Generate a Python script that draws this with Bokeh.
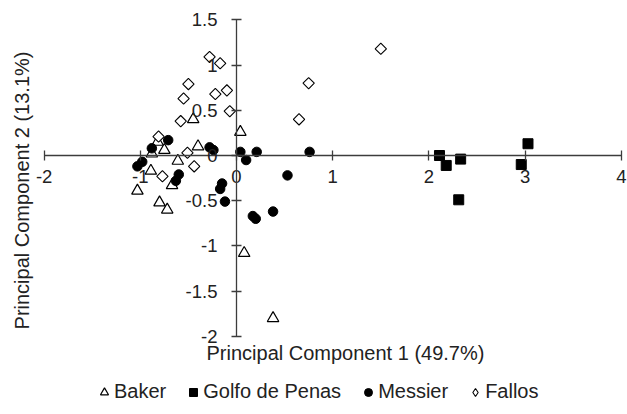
from bokeh.plotting import figure
from bokeh.models import (FixedTicker, Label, Legend, LegendItem, Range1d,
                          PrintfTickFormatter, ColumnDataSource)
from bokeh.embed import file_html
from bokeh.resources import INLINE
import math

# ---- data ----
baker_x = [-0.45, 0.04, -0.40, -0.75, -0.82, -0.88, -0.61, -0.89, -0.67, -1.03, -0.80, -0.72, 0.08, 0.38]
baker_y = [0.40, 0.26, 0.10, 0.06, 0.15, 0.02, -0.06, -0.17, -0.33, -0.39, -0.52, -0.60, -1.08, -1.80]

golfo_x = [2.11, 2.18, 2.33, 2.31, 2.96, 3.03]
golfo_y = [0.00, -0.11, -0.04, -0.49, -0.10, 0.13]

messier_x = [-0.71, -0.88, -0.28, -0.24, 0.04, 0.21, 0.10, -1.03, -0.98, -0.60, -0.63,
             -0.15, -0.17, -0.12, 0.17, 0.20, 0.38, 0.53, 0.76]
messier_y = [0.17, 0.08, 0.09, 0.06, 0.04, 0.04, -0.05, -0.12, -0.07, -0.21, -0.28,
             -0.31, -0.37, -0.51, -0.67, -0.70, -0.62, -0.22, 0.04]

fallos_x = [-0.28, -0.17, -0.50, -0.55, -0.22, -0.10, -0.07, -0.58, -0.81, -0.51, -0.44, -0.77, 1.50, 0.75, 0.65]
fallos_y = [1.09, 1.02, 0.79, 0.63, 0.68, 0.72, 0.49, 0.38, 0.21, 0.03, -0.12, -0.23, 1.18, 0.80, 0.40]

series_names = ["Baker", "Golfo de Penas", "Messier", "Fallos"]
x_ticks = [-2, -1, 0, 1, 2, 3, 4]
y_ticks = [-2, -1.5, -1, -0.5, 0, 0.5, 1, 1.5]
x_title = "Principal Component 1 (49.7%)"
y_title = "Principal Component 2 (13.1%)"

FONT = "Liberation Sans"
INK = "#222222"
AXIS = "#3c3c3c"

W, H = 627, 414
# pixel geometry of the reference: origin at (236, 155), 96.2 px per x unit, 90.4 px per y unit
X0, Y0, SX, SY = 236.0, 155.0, 96.2, 90.4
x_range = Range1d(-X0 / SX, (W - X0) / SX)
y_range = Range1d(-(H - Y0) / SY, Y0 / SY)

p = figure(width=W, height=H, x_range=x_range, y_range=y_range,
           output_backend="svg", toolbar_location=None,
           min_border_left=0, min_border_right=0, min_border_top=0, min_border_bottom=0)
p.outline_line_color = None
p.grid.visible = False
p.background_fill_color = "white"
p.border_fill_color = "white"

for ax, ticks in ((p.xaxis, x_ticks), (p.yaxis, y_ticks)):
    ax.fixed_location = 0
    ax.bounds = (min(ticks), max(ticks))
    ax.ticker = FixedTicker(ticks=ticks)
    ax.formatter = PrintfTickFormatter(format="%g")
    ax.minor_tick_line_color = None
    ax.axis_line_color = AXIS
    ax.axis_line_width = 1.3
    ax.major_tick_line_color = AXIS
    ax.major_tick_line_width = 1.3
    ax.major_tick_in = 5
    ax.major_tick_out = 5
    ax.major_label_text_font = FONT
    ax.major_label_text_font_size = "18.5px"
    ax.major_label_text_color = INK
p.xaxis.major_label_standoff = 9
p.yaxis.major_label_standoff = 14

src_b = ColumnDataSource(dict(x=baker_x, y=baker_y))
src_g = ColumnDataSource(dict(x=golfo_x, y=golfo_y))
src_m = ColumnDataSource(dict(x=messier_x, y=messier_y))
src_f = ColumnDataSource(dict(x=fallos_x, y=fallos_y))

r_b = p.scatter("x", "y", source=src_b, marker="triangle", size=11.5,
                fill_color="white", line_color="black", line_width=1.2)
r_g = p.scatter("x", "y", source=src_g, marker="square", size=10,
                fill_color="black", line_color="black")
r_m = p.scatter("x", "y", source=src_m, marker="circle", size=9.5,
                fill_color="black", line_color="black")
r_f = p.scatter("x", "y", source=src_f, marker="square", size=8, angle=math.pi / 4,
                fill_color="white", line_color="black", line_width=1.1)
# legend swatch for Fallos (legend swatches ignore marker rotation); no point is drawn
r_f_key = p.scatter(x=[float("nan")], y=[float("nan")], marker="diamond", size=10,
                    fill_color="white", line_color="black", line_width=1.1)

xt = Label(x=206, y=H - 352, x_units="screen", y_units="screen", text=x_title,
           text_font=FONT, text_font_size="20px", text_color=INK,
           text_align="left", text_baseline="middle")
p.add_layout(xt)
yt = Label(x=21, y=H - 190, x_units="screen", y_units="screen", text=y_title,
           angle=math.pi / 2, text_font=FONT, text_font_size="20px", text_color=INK,
           text_align="center", text_baseline="middle")
p.add_layout(yt)

legend = Legend(items=[LegendItem(label=n, renderers=[r]) for n, r in
                       zip(series_names, [r_b, r_g, r_m, r_f_key])],
                orientation="horizontal", location=(94, 11),
                label_text_font=FONT, label_text_font_size="20px", label_text_color=INK,
                glyph_width=20, glyph_height=20, label_standoff=0, spacing=17,
                padding=0, margin=0, border_line_color=None, background_fill_alpha=0)
p.add_layout(legend, "center")

open("out.html", "w").write(file_html(p, INLINE))
